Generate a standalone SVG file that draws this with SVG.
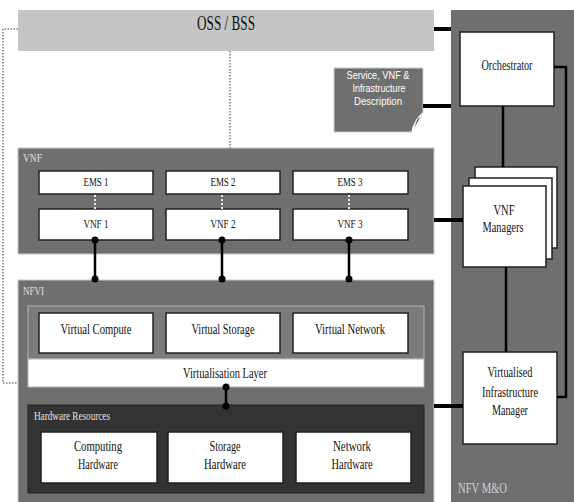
<svg xmlns="http://www.w3.org/2000/svg" width="574" height="502" viewBox="0 0 574 502">
<defs>
<style>
.cont{fill:#6f6f6f;stroke:#c8c8c8;stroke-width:1}
.box{fill:#fff;stroke:#222;stroke-width:1.5}
.t{font-family:"Liberation Serif","Times New Roman",serif;font-size:15px;fill:#111;text-anchor:middle}
.s{font-size:13.5px}
.lbl{font-family:"Liberation Serif","Times New Roman",serif;font-size:13px;fill:#e0e0e0}
.desc{font-family:"Liberation Sans",Arial,sans-serif;font-size:11.5px;fill:#fff;text-anchor:middle}
.thick{stroke:#000;stroke-width:4;fill:none}
.line{stroke:#000;stroke-width:2.5;fill:none}
.dot{fill:#000}
.dotted{stroke:#9a9a9a;stroke-width:2;stroke-dasharray:1.5 1.5;fill:none}
.wdash{stroke:#e8e8e8;stroke-width:2;stroke-dasharray:2 2;fill:none}
</style>
</defs>
<rect width="574" height="502" fill="#fff"/>

<g id="oss-bss">
<rect x="18" y="10" width="416" height="41" fill="#c4c4c4"/>
<text class="t" x="226" y="30" style="font-size:20px" textLength="58" lengthAdjust="spacingAndGlyphs">OSS / BSS</text>
</g>

<g id="nfv-mano">
<rect x="451" y="10" width="123" height="492" fill="#6f6f6f"/>
<text class="lbl" x="458" y="493" style="font-size:14px;fill:#d0d0d0" textLength="49" lengthAdjust="spacingAndGlyphs">NFV M&amp;O</text>
</g>

<g id="orchestrator">
<rect class="box" x="460" y="32" width="94" height="74"/>
<text class="t" x="507" y="70" textLength="51" lengthAdjust="spacingAndGlyphs">Orchestrator</text>
</g>

<g id="vnf-managers">
<rect class="box" x="475" y="167" width="82" height="81"/>
<rect class="box" x="469" y="178" width="83" height="81"/>
<rect class="box" x="463" y="186" width="83" height="81"/>
<text class="t" x="504" y="215" textLength="21" lengthAdjust="spacingAndGlyphs">VNF</text>
<text class="t" x="503" y="232" textLength="41" lengthAdjust="spacingAndGlyphs">Managers</text>
</g>

<g id="vim">
<rect class="box" x="463" y="352" width="94" height="92"/>
<text class="t" x="510" y="377" textLength="45" lengthAdjust="spacingAndGlyphs">Virtualised</text>
<text class="t" x="510" y="397" textLength="56" lengthAdjust="spacingAndGlyphs">Infrastructure</text>
<text class="t" x="510" y="415" textLength="36" lengthAdjust="spacingAndGlyphs">Manager</text>
</g>

<g id="description">
<path d="M334,68 H423 V113 L412,132 H334 Z" fill="#6f6f6f" stroke="#cfcfcf" stroke-width="1"/>
<path d="M412,132 Q415,119 423,113" fill="none" stroke="#fff" stroke-width="1.5"/>
<path d="M414,129 L421,116 Q416,118 414,129 Z" fill="#222" stroke="#fff" stroke-width="0.8"/>
<text class="desc" x="378" y="79" textLength="63" lengthAdjust="spacingAndGlyphs">Service, VNF &amp;</text>
<text class="desc" x="379" y="92" textLength="53" lengthAdjust="spacingAndGlyphs">Infrastructure</text>
<text class="desc" x="378" y="105" textLength="48" lengthAdjust="spacingAndGlyphs">Description</text>
</g>

<g id="vnf-layer">
<rect class="cont" x="18" y="148" width="416" height="106"/>
<text class="lbl" x="23" y="162" textLength="19" lengthAdjust="spacingAndGlyphs">VNF</text>
</g>

<g id="ems1"><rect class="box" x="39" y="171" width="114" height="23"/><text class="t s" x="96" y="186" textLength="25" lengthAdjust="spacingAndGlyphs">EMS 1</text></g>
<g id="ems2"><rect class="box" x="166" y="171" width="114" height="23"/><text class="t s" x="223" y="186" textLength="25" lengthAdjust="spacingAndGlyphs">EMS 2</text></g>
<g id="ems3"><rect class="box" x="293" y="171" width="115" height="23"/><text class="t s" x="350" y="186" textLength="25" lengthAdjust="spacingAndGlyphs">EMS 3</text></g>
<g id="vnf1"><rect class="box" x="39" y="209" width="114" height="31"/><text class="t s" x="96" y="228" textLength="25" lengthAdjust="spacingAndGlyphs">VNF 1</text></g>
<g id="vnf2"><rect class="box" x="166" y="209" width="114" height="31"/><text class="t s" x="223" y="228" textLength="25" lengthAdjust="spacingAndGlyphs">VNF 2</text></g>
<g id="vnf3"><rect class="box" x="293" y="209" width="115" height="31"/><text class="t s" x="350" y="228" textLength="25" lengthAdjust="spacingAndGlyphs">VNF 3</text></g>

<g id="nfvi">
<rect class="cont" x="18" y="280" width="416" height="224"/>
<text class="lbl" x="23" y="295" textLength="21" lengthAdjust="spacingAndGlyphs">NFVI</text>
<rect x="28" y="306" width="396" height="53" fill="#7b7b7b" stroke="#b4b4b4" stroke-width="1"/>
</g>

<g id="virtual-compute"><rect class="box" x="39" y="313" width="114" height="40"/><text class="t" x="96" y="334" textLength="71" lengthAdjust="spacingAndGlyphs">Virtual Compute</text></g>
<g id="virtual-storage"><rect class="box" x="166" y="313" width="114" height="40"/><text class="t" x="223" y="334" textLength="63" lengthAdjust="spacingAndGlyphs">Virtual Storage</text></g>
<g id="virtual-network"><rect class="box" x="293" y="313" width="115" height="40"/><text class="t" x="350" y="334" textLength="70" lengthAdjust="spacingAndGlyphs">Virtual Network</text></g>

<g id="virtualisation-layer">
<rect x="28" y="359" width="396" height="28" fill="#fff" stroke="#b4b4b4" stroke-width="1"/>
<text class="t" x="225" y="378" textLength="84" lengthAdjust="spacingAndGlyphs">Virtualisation Layer</text>
</g>

<g id="hardware-resources">
<rect x="28" y="405" width="396" height="88" fill="#333" stroke="#222" stroke-width="1"/>
<text class="lbl" x="34" y="420" style="fill:#e4e4e4" textLength="76" lengthAdjust="spacingAndGlyphs">Hardware Resources</text>
</g>

<g id="computing-hw"><rect class="box" x="41" y="432" width="116" height="51" stroke="#fff"/><text class="t" x="98" y="451" textLength="48" lengthAdjust="spacingAndGlyphs">Computing</text><text class="t" x="98" y="469" textLength="40" lengthAdjust="spacingAndGlyphs">Hardware</text></g>
<g id="storage-hw"><rect class="box" x="168" y="432" width="115" height="51" stroke="#fff"/><text class="t" x="225" y="451" textLength="31" lengthAdjust="spacingAndGlyphs">Storage</text><text class="t" x="225" y="469" textLength="42" lengthAdjust="spacingAndGlyphs">Hardware</text></g>
<g id="network-hw"><rect class="box" x="296" y="432" width="115" height="51" stroke="#fff"/><text class="t" x="352" y="451" textLength="38" lengthAdjust="spacingAndGlyphs">Network</text><text class="t" x="352" y="469" textLength="41" lengthAdjust="spacingAndGlyphs">Hardware</text></g>

<g id="connectors">
<polyline class="dotted" points="18,29 3,29 3,383 18,383"/>
<line class="dotted" x1="230" y1="51" x2="230" y2="148"/>
<line class="wdash" x1="95" y1="195" x2="95" y2="209"/>
<line class="wdash" x1="222" y1="195" x2="222" y2="209"/>
<line class="wdash" x1="349" y1="195" x2="349" y2="209"/>
<line class="thick" x1="434" y1="29" x2="451" y2="29"/>
<line class="thick" x1="423" y1="106" x2="451" y2="106"/>
<line class="thick" x1="434" y1="220" x2="463" y2="220"/>
<line class="thick" x1="434" y1="406" x2="463" y2="406"/>
<line class="line" x1="503" y1="106" x2="503" y2="167"/>
<line class="line" x1="506" y1="267" x2="506" y2="352"/>
<polyline class="line" points="554,67 566,67 566,397 557,397"/>
<line class="line" x1="95" y1="240" x2="95" y2="279"/>
<line class="line" x1="222" y1="240" x2="222" y2="279"/>
<line class="line" x1="349" y1="240" x2="349" y2="279"/>
<line class="line" x1="226" y1="387" x2="226" y2="406"/>
<circle class="dot" cx="95" cy="240" r="3.5"/><circle class="dot" cx="95" cy="279" r="3.5"/>
<circle class="dot" cx="222" cy="240" r="3.5"/><circle class="dot" cx="222" cy="279" r="3.5"/>
<circle class="dot" cx="349" cy="240" r="3.5"/><circle class="dot" cx="349" cy="279" r="3.5"/>
<circle class="dot" cx="226" cy="387" r="3.5"/><circle class="dot" cx="226" cy="406" r="3.5"/>
</g>
</svg>
